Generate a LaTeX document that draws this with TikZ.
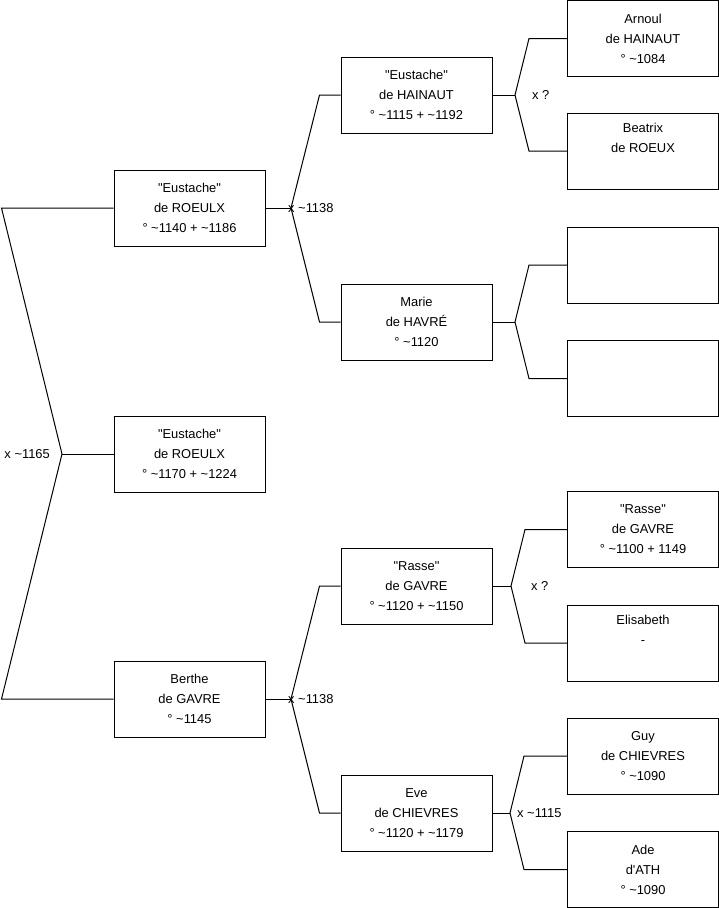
\documentclass[tikz,border=0pt]{standalone}
\usepackage{fontspec}
\newfontfamily\tfont{Liberation Sans}
\newcommand{\circa}{\textasciitilde}
\tikzset{
  person/.style={draw,line width=1pt,minimum width=151pt,minimum height=76pt,inner sep=0pt,align=center,font=\tfont\fontsize{12.9}{20}\selectfont},
  wed/.style={font=\tfont\fontsize{12.9}{15}\selectfont,inner sep=0pt},
  link/.style={draw,line width=1pt},
}
\begin{document}
\begin{tikzpicture}[x=1pt,y=-1pt]
\useasboundingbox (0,0) rectangle (719,908);
\node[person] (me) at (189.5,454) {"Eustache"\\de ROEULX\\° \circa1170 + \circa1224};
\node[person] (dad) at (189.5,208) {"Eustache"\\de ROEULX\\° \circa1140 + \circa1186};
\node[person] (mum) at (189.5,699) {Berthe\\de GAVRE\\° \circa1145};
\node[person] (gf1) at (416.5,95) {"Eustache"\\de HAINAUT\\° \circa1115 + \circa1192};
\node[person] (gm1) at (416.5,322) {Marie\\de HAVRÉ\\° \circa1120};
\node[person] (gf2) at (416.5,586) {"Rasse"\\de GAVRE\\° \circa1120 + \circa1150};
\node[person] (gm2) at (416.5,813) {Eve\\de CHIEVRES\\° \circa1120 + \circa1179};
\node[person] (ggf1) at (643,38.5) {Arnoul\\de HAINAUT\\° \circa1084};
\node[person] (ggm1) at (643,151) {Beatrix\\de ROEUX\\\strut};
\node[person] (ggf2) at (643,265) {};
\node[person] (ggm2) at (643,378.5) {};
\node[person] (ggf3) at (643,529.5) {"Rasse"\\de GAVRE\\° \circa1100 + 1149};
\node[person] (ggm3) at (643,643) {Elisabeth\\-\\\strut};
\node[person] (ggf4) at (643,756) {Guy\\de CHIEVRES\\° \circa1090};
\node[person] (ggm4) at (643,869.5) {Ade\\d'ATH\\° \circa1090};
\coordinate (m0) at (62,454);
\coordinate (m1) at (291,208);
\coordinate (m2) at (291,699);
\coordinate (m3) at (515,95);
\coordinate (m4) at (515,322);
\coordinate (m5) at (511,586);
\coordinate (m6) at (510,813);
\draw[link] (me.west) -- (m0);
\draw[link] (dad.west) -- ++(-112,0) -- (m0) -- ([xshift=-112pt]mum.west) -- (mum.west);
\draw[link] (dad.east) -- (m1);
\draw[link] (gf1.west) -- ++(-21,0) -- (m1) -- ([xshift=-21pt]gm1.west) -- (gm1.west);
\draw[link] (mum.east) -- (m2);
\draw[link] (gf2.west) -- ++(-21,0) -- (m2) -- ([xshift=-21pt]gm2.west) -- (gm2.west);
\draw[link] (gf1.east) -- (m3);
\draw[link] (ggf1.west) -- ++(-38,0) -- (m3) -- ([xshift=-38pt]ggm1.west) -- (ggm1.west);
\draw[link] (gm1.east) -- (m4);
\draw[link] (ggf2.west) -- ++(-38,0) -- (m4) -- ([xshift=-38pt]ggm2.west) -- (ggm2.west);
\draw[link] (gf2.east) -- (m5);
\draw[link] (ggf3.west) -- ++(-42,0) -- (m5) -- ([xshift=-42pt]ggm3.west) -- (ggm3.west);
\draw[link] (gm2.east) -- (m6);
\draw[link] (ggf4.west) -- ++(-43,0) -- (m6) -- ([xshift=-43pt]ggm4.west) -- (ggm4.west);
\node[wed,anchor=east] (w0) at ([xshift=-12pt]m0) {x \circa1165};
\node[wed,anchor=west] (w1) at ([xshift=-3pt]m1) {x \circa1138};
\node[wed,anchor=west] (w2) at ([xshift=-3pt]m2) {x \circa1138};
\node[wed,anchor=west] (w3) at ([xshift=17pt]m3) {x ?};
\node[wed,anchor=west] (w5) at ([xshift=20pt]m5) {x ?};
\node[wed,anchor=west] (w6) at ([xshift=7pt]m6) {x \circa1115};
\end{tikzpicture}
\end{document}
